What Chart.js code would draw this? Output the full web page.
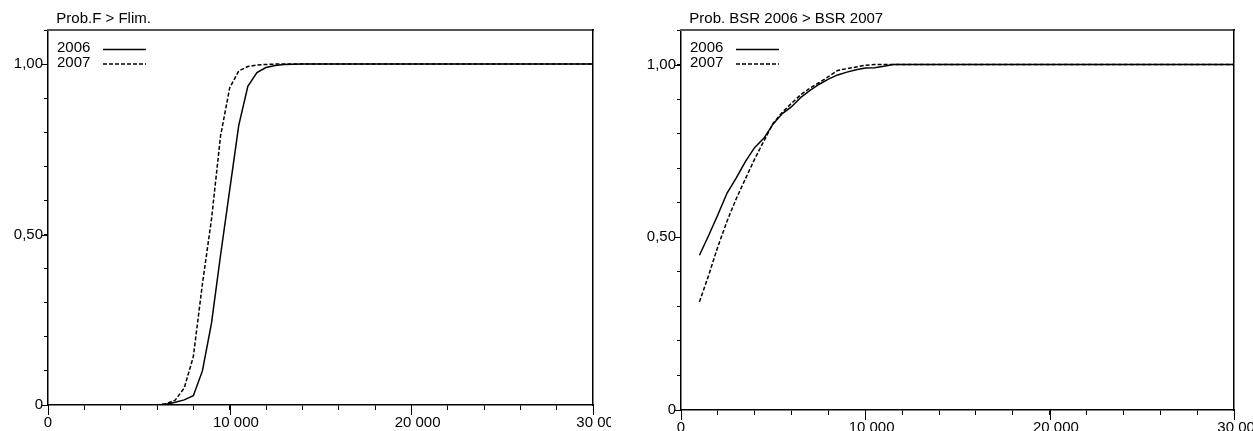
<!DOCTYPE html>
<html>
<head>
<meta charset="utf-8">
<title>Prob.F > Flim. / Prob. BSR 2006 > BSR 2007</title>
<script src="https://cdn.jsdelivr.net/npm/chart.js@4.4.0/dist/chart.umd.min.js"></script>
<style>
  body { margin: 0; background: #fff; }
  canvas { position: absolute; top: 0; }
  #leftChart { left: 0; }
  #rightChart { left: 630px; }
</style>
</head>
<body>
<canvas id="leftChart" width="611" height="431"></canvas>
<canvas id="rightChart" width="623" height="431"></canvas>
<script>
var years = ["2006", "2007"];

// Prob.F > Flim.
var fX = [1000, 6000, 6500, 7000, 7500, 8000, 8500, 9000, 9500, 10000, 10500, 11000, 11500, 12000, 12500, 13000, 14000, 30000];
var f2006 = [0, 0, 0.002, 0.008, 0.015, 0.027, 0.10, 0.24, 0.44, 0.63, 0.82, 0.935, 0.975, 0.99, 0.996, 0.999, 1, 1];
var f2007 = [0, 0, 0.004, 0.014, 0.05, 0.142, 0.355, 0.545, 0.79, 0.93, 0.98, 0.993, 0.997, 0.999, 1, 1, 1, 1];

// Prob. BSR 2006 > BSR 2007
var bX = [1000, 1500, 2000, 2500, 3000, 3500, 4000, 4500, 5000, 5500, 6000, 6500, 7000, 7500, 8000, 8500, 9000, 9500, 10000, 10500, 11000, 11500, 12000, 30000];
var b2006 = [0.448, 0.505, 0.565, 0.628, 0.672, 0.72, 0.76, 0.787, 0.828, 0.858, 0.878, 0.905, 0.925, 0.943, 0.958, 0.97, 0.978, 0.985, 0.99, 0.991, 0.995, 1, 1, 1];
var b2007 = [0.313, 0.39, 0.473, 0.547, 0.612, 0.67, 0.727, 0.779, 0.83, 0.862, 0.888, 0.913, 0.932, 0.948, 0.965, 0.983, 0.988, 0.993, 0.998, 1, 1, 1, 1, 1];

// tick labels
var xTicks = [0, 10000, 20000, 30000];
var xTickLabels = ["0", "10 000", "20 000", "30 000"];
var yTicks = [0, 0.5, 1];
var yTickLabels = ["0", "0,50", "1,00"];

Chart.defaults.font.family = '"Liberation Sans", Arial, sans-serif';
Chart.defaults.font.size = 15;
Chart.defaults.color = '#000';

function findLabel(v, ticks, labels) {
  for (var i = 0; i < ticks.length; i++) {
    if (Math.abs(v - ticks[i]) < 1e-6) return labels[i];
  }
  return '';
}

// longer marks for the labelled ticks
var majorTicks = {
  id: 'majorTicks',
  afterDraw: function(chart) {
    var ctx = chart.ctx, a = chart.chartArea;
    var x = chart.scales.x, y = chart.scales.y;
    ctx.save();
    ctx.strokeStyle = '#000';
    ctx.lineWidth = 1;
    ctx.beginPath();
    xTicks.forEach(function(v) {
      var px = Math.round(x.getPixelForValue(v)) + 0.5;
      ctx.moveTo(px, a.bottom);
      ctx.lineTo(px, a.bottom + 10);
    });
    yTicks.forEach(function(v) {
      var py = Math.round(y.getPixelForValue(v)) + 0.5;
      ctx.moveTo(a.left - 7, py);
      ctx.lineTo(a.left, py);
    });
    ctx.stroke();
    ctx.restore();
  }
};

// legend inside the plot: text first, line sample after
var lineLegend = {
  id: 'lineLegend',
  afterDraw: function(chart) {
    var ctx = chart.ctx, a = chart.chartArea;
    ctx.save();
    ctx.font = '15px "Liberation Sans", Arial, sans-serif';
    ctx.fillStyle = '#000';
    ctx.textBaseline = 'middle';
    chart.data.datasets.forEach(function(ds, i) {
      var y = a.top + 18 + i * 14.5;
      ctx.fillText(ds.label, a.left + 9, y);
      ctx.setLineDash(ds.borderDash || []);
      ctx.lineWidth = ds.borderWidth;
      ctx.strokeStyle = ds.borderColor;
      ctx.beginPath();
      ctx.moveTo(a.left + 55, y + 1.5);
      ctx.lineTo(a.left + 98, y + 1.5);
      ctx.stroke();
    });
    ctx.restore();
  }
};

function makeChart(id, title, xs, s2006, s2007, yAxisWidth, rightPad, xAxisHeight) {
  var ctx = document.getElementById(id).getContext('2d');
  return new Chart(ctx, {
    type: 'line',

    data: {
      datasets: [{
        label: years[0],
        data: xs.map(function(x, i) { return { x: x, y: s2006[i] }; }),
        borderColor: '#000',
        borderWidth: 1.5,
        pointRadius: 0
      }, {
        label: years[1],
        data: xs.map(function(x, i) { return { x: x, y: s2007[i] }; }),
        borderColor: '#000',
        borderWidth: 1.5,
        borderDash: [4, 2],
        pointRadius: 0
      }]
    },

    options: {
      responsive: false,
      animation: false,
      layout: { padding: { left: 0, right: rightPad, top: 0, bottom: 0 } },
      plugins: {
        legend: { display: false },
        tooltip: { enabled: false },
        title: {
          display: true,
          text: '  ' + title,
          align: 'start',
          fullSize: false,
          color: '#000',
          font: { size: 15, weight: 'normal' },
          padding: { top: 10, bottom: 2 }
        }
      },
      scales: {
        x: {
          type: 'linear',
          min: 0,
          max: 30000,
          border: { color: '#000', width: 1.5 },
          grid: { drawOnChartArea: false, tickLength: 5, color: '#000' },
          ticks: {
            stepSize: 2000,
            padding: 4,
            maxRotation: 0,
            autoSkip: false,
            callback: function(v) {
              var s = findLabel(v, xTicks, xTickLabels);
              return (s && v !== 0) ? '   ' + s : s;
            }
          },
          afterFit: function(s) {
            s.height = xAxisHeight;
            s.paddingLeft = 0;
            s.paddingRight = 0;
          }
        },
        y: {
          min: 0,
          max: 1.1,
          border: { color: '#000', width: 1.5 },
          grid: { drawOnChartArea: false, tickLength: 4, color: '#000' },
          ticks: {
            stepSize: 0.1,
            padding: 1,
            autoSkip: false,
            callback: function(v) { return findLabel(v, yTicks, yTickLabels); }
          },
          afterFit: function(s) { s.width = yAxisWidth; }
        },
        xTop: {
          type: 'linear',
          position: 'top',
          min: 0,
          max: 30000,
          ticks: { display: false },
          grid: { drawOnChartArea: false, drawTicks: false },
          border: { color: '#555', width: 2 }
        },
        yRight: {
          position: 'right',
          min: 0,
          max: 1.1,
          ticks: { display: false },
          grid: { drawOnChartArea: false, drawTicks: false },
          border: { color: '#000', width: 1.5 }
        }
      }
    },
    plugins: [majorTicks, lineLegend]
  });
}

var leftChart = makeChart('leftChart', 'Prob.F > Flim.', fX, f2006, f2007, 48, 18, 26);
var rightChart = makeChart('rightChart', 'Prob. BSR 2006 > BSR 2007', bX, b2006, b2007, 51, 19, 21);
</script>
</body>
</html>
